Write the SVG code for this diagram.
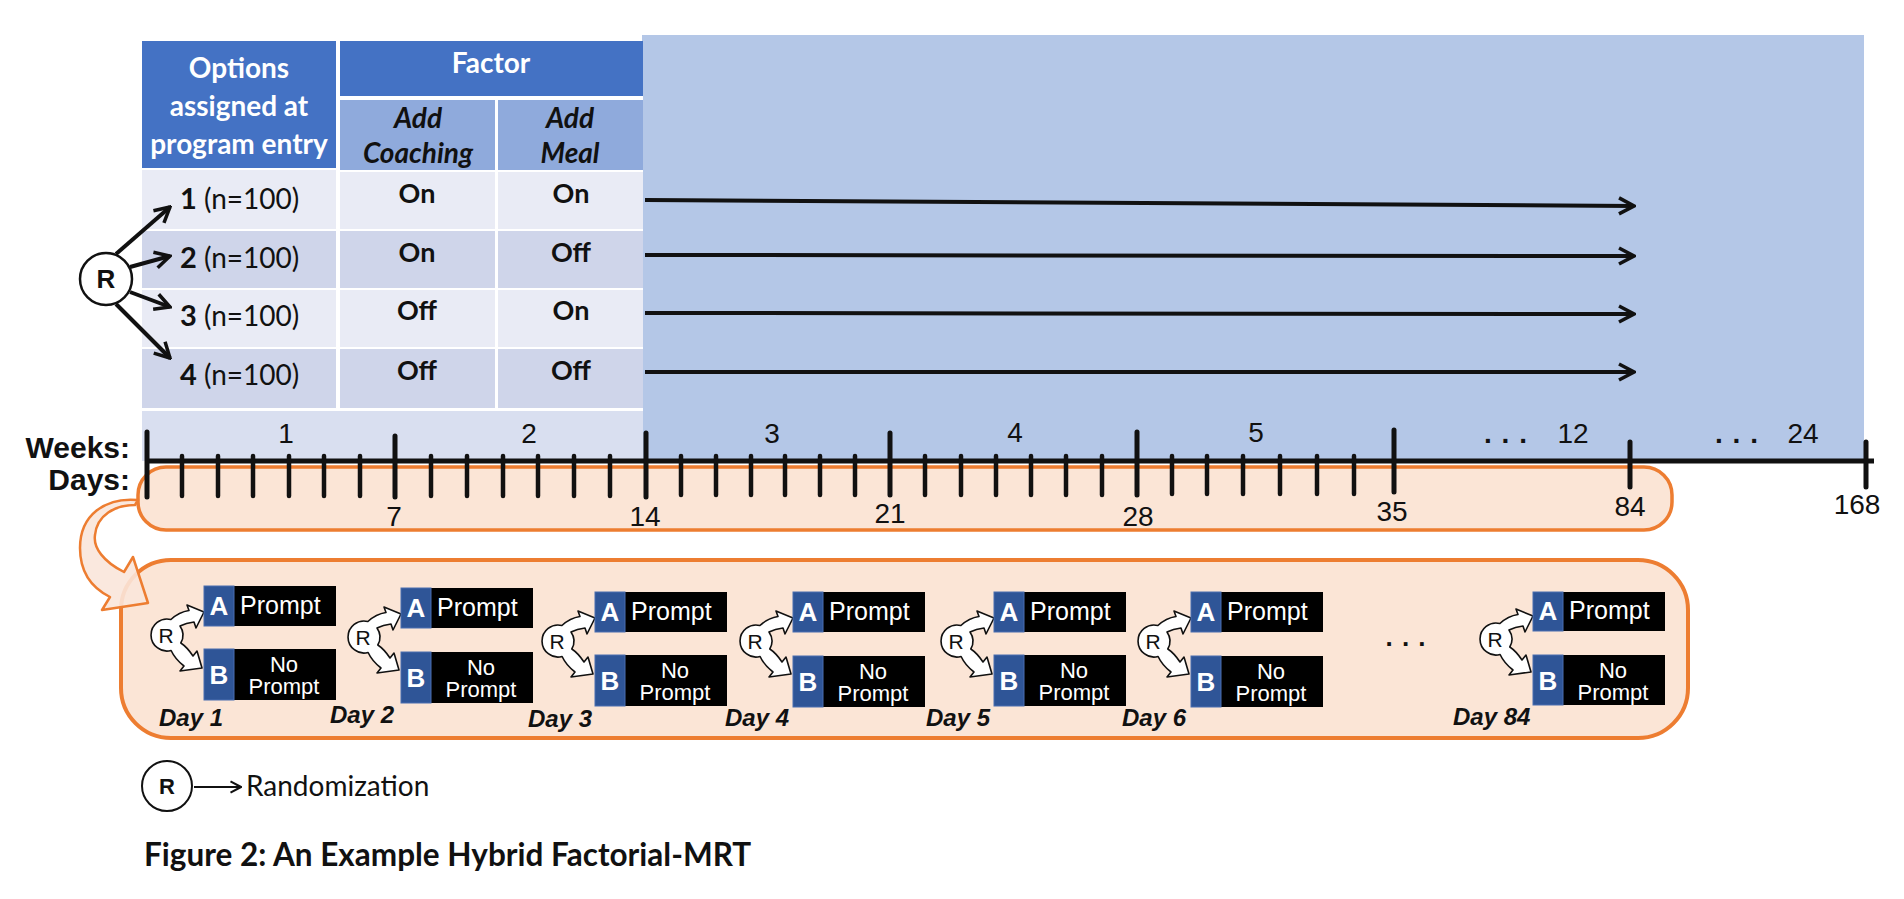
<svg xmlns="http://www.w3.org/2000/svg" width="1904" height="899" viewBox="0 0 1904 899">
<style>
.hdr{fill:#4472c4}
.sub{fill:#8faadc}
.rl{fill:#e9ebf5}
.rd{fill:#cfd5ea}
.ht{font-family:Lato,"Open Sans",sans-serif;font-weight:bold;font-size:28px;fill:#fff;text-anchor:middle}
.st{font-family:Lato,"Open Sans",sans-serif;font-weight:bold;font-style:italic;font-size:28px;fill:#111;text-anchor:middle}
.rt{font-family:Lato,"Open Sans",sans-serif;font-size:28px;fill:#111}
.ct{font-family:Lato,"Open Sans",sans-serif;font-weight:bold;font-size:27px;fill:#111;text-anchor:middle}
.ax{font-family:"Liberation Sans",Arial,sans-serif;font-size:28px;fill:#111;text-anchor:middle}
.axb{font-family:"Liberation Sans",Arial,sans-serif;font-weight:bold;font-size:30px;fill:#111;text-anchor:end}
.tk{stroke:#111;stroke-width:5;stroke-linecap:round}
.tm{stroke:#111;stroke-width:4.5;stroke-linecap:round}
.arr{stroke:#111;stroke-width:4;fill:none;marker-end:url(#ah)}
.bx{fill:#000}
.bq{fill:#2f5597;stroke:#4a6fb0;stroke-width:1}
.lt{font-family:"Liberation Sans",Arial,sans-serif;font-weight:bold;font-size:26px;fill:#fff;text-anchor:middle}
.pt{font-family:"Liberation Sans",Arial,sans-serif;font-size:25px;fill:#fff}
.pc{font-family:"Liberation Sans",Arial,sans-serif;font-size:22px;fill:#fff;text-anchor:middle}
.dl{font-family:"Liberation Sans",Arial,sans-serif;font-weight:bold;font-style:italic;font-size:24px;fill:#111}
.rg{fill:#fff;stroke:#111;stroke-width:1.6;stroke-linejoin:round}
.rgt{font-family:"Liberation Sans",Arial,sans-serif;font-size:21px;fill:#111;text-anchor:middle}
</style>
<defs>
<marker id="ah" viewBox="0 0 20 20" refX="18" refY="10" markerWidth="20" markerHeight="20" markerUnits="userSpaceOnUse" orient="auto">
<path d="M3,2 L18,10 L3,18" fill="none" stroke="#111" stroke-width="3.5"/>
</marker>
<marker id="ah2" viewBox="0 0 20 20" refX="18" refY="10" markerWidth="14" markerHeight="14" markerUnits="userSpaceOnUse" orient="auto">
<path d="M3,2 L18,10 L3,18" fill="none" stroke="#111" stroke-width="3"/>
</marker>
<g id="glyph">
<path class="rg" d="M3.9,-15.5 Q12,-23 22,-24.5 L20,-30 L37,-23 L29,-7 L27,-13 Q19,-12 13,-9 A16 16 0 0 1 13.8,8 Q20,12 26,21 L30,16 L35,33 L13,36 L17,31 Q8,24 4.1,15.5 A16 16 0 1 1 3.9,-15.5 Z"/>
<text class="rgt" x="-1" y="7.5">R</text>
</g>
</defs>

<rect x="0" y="0" width="1904" height="899" fill="#fff"/>

<g id="timeline-bg">
<rect x="642" y="35" width="1222" height="426" fill="#b4c7e7"/>
</g>

<g id="table">
<rect x="142" y="41" width="501" height="420" fill="#fff"/>
<rect class="hdr" x="142" y="41" width="194" height="127"/>
<rect class="hdr" x="340" y="41" width="303" height="55"/>
<rect class="sub" x="340" y="100" width="155" height="70"/>
<rect class="sub" x="498" y="100" width="145" height="70"/>
<rect class="rl" x="142" y="170" width="194" height="59"/>
<rect class="rl" x="340" y="172" width="155" height="57"/>
<rect class="rl" x="498" y="172" width="145" height="57"/>
<rect class="rd" x="142" y="231" width="194" height="57"/>
<rect class="rd" x="340" y="231" width="155" height="57"/>
<rect class="rd" x="498" y="231" width="145" height="57"/>
<rect class="rl" x="142" y="290" width="194" height="57"/>
<rect class="rl" x="340" y="290" width="155" height="57"/>
<rect class="rl" x="498" y="290" width="145" height="57"/>
<rect class="rd" x="142" y="349" width="194" height="59"/>
<rect class="rd" x="340" y="349" width="155" height="59"/>
<rect class="rd" x="498" y="349" width="145" height="59"/>
<rect x="142" y="411" width="501" height="50" fill="#d9dff0"/>
<text class="ht" x="239" y="78">Options</text>
<text class="ht" x="239" y="116">assigned at</text>
<text class="ht" x="239" y="154">program entry</text>
<text class="ht" x="491" y="73" font-size="27">Factor</text>
<text class="st" x="418" y="128">Add</text>
<text class="st" x="418" y="163">Coaching</text>
<text class="st" x="570" y="128">Add</text>
<text class="st" x="570" y="163">Meal</text>
<text class="rt" x="180" y="209"><tspan font-weight="bold" font-size="29">1</tspan> (n=100)</text>
<text class="rt" x="180" y="268"><tspan font-weight="bold" font-size="29">2</tspan> (n=100)</text>
<text class="rt" x="180" y="326"><tspan font-weight="bold" font-size="29">3</tspan> (n=100)</text>
<text class="rt" x="180" y="385"><tspan font-weight="bold" font-size="29">4</tspan> (n=100)</text>
<text class="ct" x="417" y="203">On</text>
<text class="ct" x="571" y="203">On</text>
<text class="ct" x="417" y="262">On</text>
<text class="ct" x="571" y="262">Off</text>
<text class="ct" x="417" y="320">Off</text>
<text class="ct" x="571" y="320">On</text>
<text class="ct" x="417" y="380">Off</text>
<text class="ct" x="571" y="380">Off</text>
</g>

<g id="randomizer">
<circle cx="106" cy="279" r="26" fill="#fff" stroke="#111" stroke-width="2.5"/>
<text x="106" y="288" font-family="'Liberation Sans',Arial,sans-serif" font-weight="bold" font-size="26" text-anchor="middle" fill="#111">R</text>
</g>

<g id="connectors">
<line class="arr" x1="116" y1="254" x2="170" y2="207"/>
<line class="arr" x1="130" y1="267" x2="170" y2="256"/>
<line class="arr" x1="130" y1="292" x2="170" y2="307"/>
<line class="arr" x1="116" y1="304" x2="170" y2="358"/>
<line class="arr" x1="645" y1="200" x2="1634" y2="206"/>
<line class="arr" x1="645" y1="255" x2="1634" y2="256"/>
<line class="arr" x1="645" y1="313" x2="1634" y2="314"/>
<line class="arr" x1="645" y1="372" x2="1634" y2="372"/>
</g>

<g id="days-band">
<rect x="138" y="467" width="1534" height="63" rx="28" fill="#fbe5d6" stroke="#ed7d31" stroke-width="3.5"/>
</g>

<g id="axis">
<line x1="147" y1="461" x2="1874" y2="461" stroke="#111" stroke-width="5"/>
<g class="tk">
<line x1="147" y1="432" x2="147" y2="497"/>
<line x1="395" y1="436" x2="395" y2="497"/>
<line x1="646" y1="433" x2="646" y2="497"/>
<line x1="890" y1="433" x2="890" y2="495"/>
<line x1="1137" y1="432" x2="1137" y2="495"/>
<line x1="1394" y1="430" x2="1394" y2="492"/>
<line x1="1630" y1="442" x2="1630" y2="487"/>
<line x1="1866" y1="442" x2="1866" y2="487"/>
</g>
<g class="tm">
<line x1="182" y1="456" x2="182" y2="496"/><line x1="218" y1="456" x2="218" y2="496"/><line x1="253" y1="456" x2="253" y2="496"/><line x1="289" y1="456" x2="289" y2="496"/><line x1="324" y1="456" x2="324" y2="496"/><line x1="360" y1="456" x2="360" y2="496"/>
<line x1="431" y1="456" x2="431" y2="496"/><line x1="467" y1="456" x2="467" y2="496"/><line x1="503" y1="456" x2="503" y2="496"/><line x1="538" y1="456" x2="538" y2="496"/><line x1="574" y1="456" x2="574" y2="496"/><line x1="610" y1="456" x2="610" y2="496"/>
<line x1="681" y1="456" x2="681" y2="495"/><line x1="716" y1="456" x2="716" y2="495"/><line x1="751" y1="456" x2="751" y2="495"/><line x1="785" y1="456" x2="785" y2="495"/><line x1="820" y1="456" x2="820" y2="495"/><line x1="855" y1="456" x2="855" y2="495"/>
<line x1="925" y1="456" x2="925" y2="495"/><line x1="961" y1="456" x2="961" y2="495"/><line x1="996" y1="456" x2="996" y2="495"/><line x1="1031" y1="456" x2="1031" y2="495"/><line x1="1066" y1="456" x2="1066" y2="495"/><line x1="1102" y1="456" x2="1102" y2="495"/>
<line x1="1172" y1="456" x2="1172" y2="494"/><line x1="1207" y1="456" x2="1207" y2="494"/><line x1="1243" y1="456" x2="1243" y2="494"/><line x1="1280" y1="456" x2="1280" y2="494"/><line x1="1317" y1="456" x2="1317" y2="494"/><line x1="1354" y1="456" x2="1354" y2="494"/>
</g>
<text class="axb" x="130" y="458">Weeks:</text>
<text class="axb" x="130" y="490">Days:</text>
<text class="ax" x="286" y="443">1</text>
<text class="ax" x="529" y="443">2</text>
<text class="ax" x="772" y="443">3</text>
<text class="ax" x="1015" y="442">4</text>
<text class="ax" x="1256" y="442">5</text>
<text class="ax" x="1506" y="443" font-weight="bold" letter-spacing="1">. . .</text>
<text class="ax" x="1573" y="443">12</text>
<text class="ax" x="1737" y="443" font-weight="bold" letter-spacing="1">. . .</text>
<text class="ax" x="1803" y="443">24</text>
<text class="ax" x="394" y="526">7</text>
<text class="ax" x="645" y="526">14</text>
<text class="ax" x="890" y="523">21</text>
<text class="ax" x="1138" y="526">28</text>
<text class="ax" x="1392" y="521">35</text>
<text class="ax" x="1630" y="516">84</text>
<text class="ax" x="1857" y="514">168</text>
</g>

<g id="daily-panel">
<rect x="121" y="560" width="1567" height="178" rx="50" fill="#fbe5d6" stroke="#ed7d31" stroke-width="4"/>
</g>

<g id="callout-arrow">
<path d="M138,500 C105,497 80,515 80,548 C80,572 92,588 110,597 L102,610 L148,603 L133,557 L124,572 C104,562 93,548 95,535 C97,515 115,505 135,505 Z" fill="#fae6da" fill-opacity="0.9" stroke="#ed7d31" stroke-width="2.5" stroke-linejoin="round"/>
</g>

<g id="day1">
<use href="#glyph" x="167" y="635"/>
<rect class="bx" x="204" y="586" width="132" height="40"/><rect class="bq" x="204" y="586" width="30" height="40"/>
<text class="lt" x="219" y="615">A</text><text class="pt" x="240" y="614">Prompt</text>
<rect class="bx" x="204" y="649" width="132" height="51"/><rect class="bq" x="204" y="649" width="30" height="51"/>
<text class="lt" x="219" y="684">B</text><text class="pc" x="284" y="672">No</text><text class="pc" x="284" y="694">Prompt</text>
<text class="dl" x="159" y="726">Day 1</text>
</g>
<g id="day2">
<use href="#glyph" x="364" y="637"/>
<rect class="bx" x="401" y="588" width="132" height="40"/><rect class="bq" x="401" y="588" width="30" height="40"/>
<text class="lt" x="416" y="617">A</text><text class="pt" x="437" y="616">Prompt</text>
<rect class="bx" x="401" y="652" width="132" height="51"/><rect class="bq" x="401" y="652" width="30" height="51"/>
<text class="lt" x="416" y="687">B</text><text class="pc" x="481" y="675">No</text><text class="pc" x="481" y="697">Prompt</text>
<text class="dl" x="330" y="723">Day 2</text>
</g>
<g id="day3">
<use href="#glyph" x="558" y="641"/>
<rect class="bx" x="595" y="592" width="132" height="40"/><rect class="bq" x="595" y="592" width="30" height="40"/>
<text class="lt" x="610" y="621">A</text><text class="pt" x="631" y="620">Prompt</text>
<rect class="bx" x="595" y="655" width="132" height="51"/><rect class="bq" x="595" y="655" width="30" height="51"/>
<text class="lt" x="610" y="690">B</text><text class="pc" x="675" y="678">No</text><text class="pc" x="675" y="700">Prompt</text>
<text class="dl" x="528" y="727">Day 3</text>
</g>
<g id="day4">
<use href="#glyph" x="756" y="641"/>
<rect class="bx" x="793" y="592" width="132" height="40"/><rect class="bq" x="793" y="592" width="30" height="40"/>
<text class="lt" x="808" y="621">A</text><text class="pt" x="829" y="620">Prompt</text>
<rect class="bx" x="793" y="656" width="132" height="51"/><rect class="bq" x="793" y="656" width="30" height="51"/>
<text class="lt" x="808" y="691">B</text><text class="pc" x="873" y="679">No</text><text class="pc" x="873" y="701">Prompt</text>
<text class="dl" x="725" y="726">Day 4</text>
</g>
<g id="day5">
<use href="#glyph" x="957" y="641"/>
<rect class="bx" x="994" y="592" width="132" height="40"/><rect class="bq" x="994" y="592" width="30" height="40"/>
<text class="lt" x="1009" y="621">A</text><text class="pt" x="1030" y="620">Prompt</text>
<rect class="bx" x="994" y="655" width="132" height="51"/><rect class="bq" x="994" y="655" width="30" height="51"/>
<text class="lt" x="1009" y="690">B</text><text class="pc" x="1074" y="678">No</text><text class="pc" x="1074" y="700">Prompt</text>
<text class="dl" x="926" y="726">Day 5</text>
</g>
<g id="day6">
<use href="#glyph" x="1154" y="641"/>
<rect class="bx" x="1191" y="592" width="132" height="40"/><rect class="bq" x="1191" y="592" width="30" height="40"/>
<text class="lt" x="1206" y="621">A</text><text class="pt" x="1227" y="620">Prompt</text>
<rect class="bx" x="1191" y="656" width="132" height="51"/><rect class="bq" x="1191" y="656" width="30" height="51"/>
<text class="lt" x="1206" y="691">B</text><text class="pc" x="1271" y="679">No</text><text class="pc" x="1271" y="701">Prompt</text>
<text class="dl" x="1122" y="726">Day 6</text>
</g>
<text x="1406" y="646" font-family="'Liberation Sans',Arial,sans-serif" font-weight="bold" font-size="26" text-anchor="middle" fill="#111" letter-spacing="1">. . .</text>
<g id="day84">
<use href="#glyph" x="1496" y="639"/>
<rect class="bx" x="1533" y="592" width="132" height="39"/><rect class="bq" x="1533" y="592" width="30" height="39"/>
<text class="lt" x="1548" y="620">A</text><text class="pt" x="1569" y="619">Prompt</text>
<rect class="bx" x="1533" y="655" width="132" height="50"/><rect class="bq" x="1533" y="655" width="30" height="50"/>
<text class="lt" x="1548" y="690">B</text><text class="pc" x="1613" y="678">No</text><text class="pc" x="1613" y="700">Prompt</text>
<text class="dl" x="1453" y="725">Day 84</text>
</g>

<g id="legend">
<circle cx="167" cy="786" r="25" fill="#fff" stroke="#111" stroke-width="2"/>
<text x="167" y="794" font-family="'Liberation Sans',Arial,sans-serif" font-weight="bold" font-size="22" text-anchor="middle" fill="#111">R</text>
<line x1="194" y1="787" x2="241" y2="787" stroke="#111" stroke-width="2.2" marker-end="url(#ah2)"/>
<text x="246" y="796" font-family="Lato,'Open Sans',sans-serif" font-size="28" fill="#111">Randomization</text>
</g>

<g id="caption">
<text x="144" y="866" font-family="Lato,'Open Sans',sans-serif" font-weight="bold" font-size="31.5" fill="#111">Figure 2: An Example Hybrid Factorial-MRT</text>
</g>
</svg>
